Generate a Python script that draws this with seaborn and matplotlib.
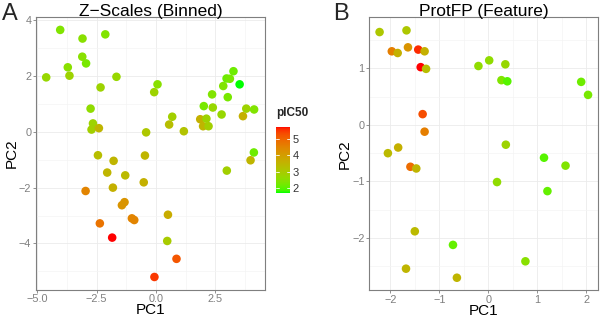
import numpy as np
import pandas as pd
import matplotlib
matplotlib.use('Agg')
import matplotlib.pyplot as plt
import seaborn as sns
from matplotlib.colors import LinearSegmentedColormap, Normalize
from matplotlib.ticker import MultipleLocator, FuncFormatter

# Panel A: Z-Scales (Binned)
zs_pc1 = [-4.03, -2.13, -3.09, -3.10, -2.94, -3.71, -3.64, -4.62, -1.66, -2.33,
          -2.75, -2.65, -2.71, -2.40, -0.41, -2.44, -1.78, -2.05, -1.29, -0.46,
          -0.51, -1.81, -2.96, -1.32, -1.43, -1.01, -0.91, -2.36, -1.84, 0.51,
          0.48, 0.87, -0.06, -0.07, 0.07, 0.69, 0.56, 1.18, 1.87, 1.99,
          2.13, 2.22, 2.02, 2.40, 2.37, 2.84, 2.77, 2.98, 3.12, 3.27,
          3.03, 3.53, 3.67, 3.81, 4.14, 4.13, 3.99, 2.99]
zs_pc2 = [3.65, 3.49, 3.34, 2.69, 2.45, 2.31, 2.01, 1.95, 1.97, 1.59,
          0.83, 0.30, 0.08, 0.13, -0.02, -0.84, -1.04, -1.46, -1.56, -0.85,
          -1.81, -2.00, -2.12, -2.52, -2.63, -3.10, -3.16, -3.28, -3.79, -2.97,
          -3.91, -4.55, -5.20, 1.42, 1.70, 0.54, 0.26, 0.02, 0.45, 0.20,
          0.47, 0.20, 0.92, 0.87, 1.34, 1.64, 0.62, 1.91, 1.90, 2.17,
          1.24, 1.70, 0.56, 0.83, 0.80, -0.74, -1.02, -1.39]
zs_pic50 = [2.4, 2.4, 2.5, 2.5, 2.3, 2.5, 2.8, 2.7, 2.7, 2.8,
            2.6, 2.8, 2.9, 3.5, 3.1, 3.3, 3.5, 3.5, 3.4, 3.5,
            3.6, 3.6, 4.5, 4.2, 4.2, 4.5, 4.5, 4.8, 5.75, 3.7,
            3.0, 5.2, 5.5, 2.8, 2.5, 2.9, 3.3, 3.2, 3.6, 3.5,
            2.8, 2.9, 2.3, 2.7, 2.4, 2.4, 2.7, 2.2, 2.3, 2.2,
            2.3, 1.7, 3.6, 2.8, 2.4, 2.2, 3.5, 2.9]

# Panel B: ProtFP (Feature)
pf_pc1 = [-2.22, -1.67, -1.97, -1.85, -1.64, -1.43, -1.30, -1.38, -1.27, -1.34,
          -1.30, -2.05, -1.84, -1.59, -1.47, -1.50, -1.68, -0.64, -0.72, -0.20,
          0.02, 0.35, 0.27, 0.39, 0.36, 0.18, 1.14, 1.21, 1.58, 1.90,
          2.04, 0.76]
pf_pc2 = [1.64, 1.67, 1.30, 1.27, 1.37, 1.33, 1.30, 1.02, 0.99, 0.19,
          -0.12, -0.50, -0.40, -0.74, -0.77, -1.88, -2.54, -2.70, -2.12, 1.04,
          1.14, 1.07, 0.79, 0.77, -0.35, -1.01, -0.58, -1.17, -0.72, 0.76,
          0.53, -2.41]
pf_pic50 = [3.1, 3.1, 4.6, 3.6, 4.2, 5.6, 3.6, 5.75, 3.3, 5.3,
            4.6, 3.4, 3.6, 4.9, 3.5, 3.4, 3.5, 3.5, 2.1, 2.6,
            2.6, 2.7, 2.4, 2.0, 2.8, 2.6, 2.0, 2.1, 2.4, 2.2,
            2.3, 2.5]

cbar_ticks = [2, 3, 4, 5]


def srgb_to_lab(rgb):
    c = np.asarray(rgb, dtype=float)
    c = np.where(c > 0.04045, ((c + 0.055) / 1.055) ** 2.4, c / 12.92)
    M = np.array([[0.4124, 0.3576, 0.1805], [0.2126, 0.7152, 0.0722], [0.0193, 0.1192, 0.9505]])
    xyz = M @ c / np.array([0.95047, 1.0, 1.08883])
    f = np.where(xyz > 0.008856, np.cbrt(xyz), 7.787 * xyz + 16 / 116)
    return np.array([116 * f[1] - 16, 500 * (f[0] - f[1]), 200 * (f[1] - f[2])])


def lab_to_srgb(lab):
    L, a, b = lab
    fy = (L + 16) / 116
    fx = fy + a / 500
    fz = fy - b / 200
    f = np.array([fx, fy, fz])
    xyz = np.where(f ** 3 > 0.008856, f ** 3, (f - 16 / 116) / 7.787) * np.array([0.95047, 1.0, 1.08883])
    Minv = np.array([[3.2406, -1.5372, -0.4986], [-0.9689, 1.8758, 0.0415], [0.0557, -0.2040, 1.0570]])
    c = np.clip(Minv @ xyz, 0, 1)
    c = np.where(c > 0.0031308, 1.055 * c ** (1 / 2.4) - 0.055, 12.92 * c)
    return np.clip(c, 0, 1)


# green -> red gradient interpolated in Lab (like ggplot's scale_colour_gradient)
lab_lo = srgb_to_lab([0, 1, 0])
lab_hi = srgb_to_lab([1, 0, 0])
stops = [lab_to_srgb(lab_lo + t * (lab_hi - lab_lo)) for t in np.linspace(0, 1, 32)]
cmap = LinearSegmentedColormap.from_list('green_red', stops)

vmin = min(min(zs_pic50), min(pf_pic50))
vmax = max(max(zs_pic50), max(pf_pic50))
norm = Normalize(vmin=vmin, vmax=vmax)

df_a = pd.DataFrame({'PC1': zs_pc1, 'PC2': zs_pc2, 'pIC50': zs_pic50})
df_b = pd.DataFrame({'PC1': pf_pc1, 'PC2': pf_pc2, 'pIC50': pf_pic50})

sns.set_theme(style='whitegrid')
plt.rcParams['font.family'] = ['Liberation Sans', 'DejaVu Sans']
plt.rcParams['axes.unicode_minus'] = True

fig = plt.figure(figsize=(6, 3.21), dpi=100)
ax_a = fig.add_axes([0.06, 0.098, 0.3817, 0.848])
ax_b = fig.add_axes([0.6155, 0.096, 0.3817, 0.850])
cax = fig.add_axes([0.46, 0.398, 0.0233, 0.2075])


def style_axes(ax, title, xmajor, ymajor):
    ax.set_facecolor('white')
    ax.xaxis.set_major_locator(MultipleLocator(xmajor))
    ax.yaxis.set_major_locator(MultipleLocator(ymajor))
    ax.xaxis.set_minor_locator(MultipleLocator(xmajor / 2))
    ax.yaxis.set_minor_locator(MultipleLocator(ymajor / 2))
    ax.grid(True, which='major', color='#ebebeb', linewidth=0.6)
    ax.grid(True, which='minor', color='#f4f4f4', linewidth=0.5)
    ax.set_axisbelow(True)
    for s in ax.spines.values():
        s.set_color('#7f7f7f')
        s.set_linewidth(0.8)
    ax.tick_params(axis='both', which='major', length=2.2, width=0.6, color='#7f7f7f',
                   labelcolor='#7f7f7f', labelsize=7.8, pad=1.2, bottom=True, left=True)
    ax.tick_params(axis='both', which='minor', length=0)
    ax.set_xlabel('PC1', fontsize=11, color='black', labelpad=-1)
    ax.set_ylabel('PC2', fontsize=11, color='black', labelpad=0)
    ax.set_title(title, fontsize=12.5, color='black', pad=1)


sns.scatterplot(data=df_a, x='PC1', y='PC2', hue='pIC50', palette=cmap, hue_norm=norm,
                s=38, linewidth=0, legend=False, ax=ax_a)
ax_a.set_xlim(-5.05, 4.6)
ax_a.set_ylim(-5.65, 4.1)
style_axes(ax_a, 'Z\u2212Scales (Binned)', 2.5, 2)
ax_a.xaxis.set_major_formatter(FuncFormatter(lambda v, p: f'{v:.1f}'.replace('-', '\u2212')))

sns.scatterplot(data=df_b, x='PC1', y='PC2', hue='pIC50', palette=cmap, hue_norm=norm,
                s=38, linewidth=0, legend=False, ax=ax_b)
ax_b.set_xlim(-2.43, 2.25)
ax_b.set_ylim(-2.92, 1.9)
style_axes(ax_b, 'ProtFP (Feature)', 1, 1)

# colour bar
sm = matplotlib.cm.ScalarMappable(norm=norm, cmap=cmap)
cb = fig.colorbar(sm, cax=cax, ticks=cbar_ticks)
cb.outline.set_visible(False)
cax.tick_params(length=0, labelsize=8, colors='#333333', pad=2)
for t in cbar_ticks:
    cax.plot([0, 0.2], [t, t], color='white', lw=0.6, transform=cax.get_yaxis_transform())
    cax.plot([0.8, 1.0], [t, t], color='white', lw=0.6, transform=cax.get_yaxis_transform())
fig.text(0.46, 0.63, 'pIC50', fontsize=8.5, fontweight='bold', ha='left', va='bottom')

# panel letters
fig.text(0.003, 0.99, 'A', fontsize=17, ha='left', va='top')
fig.text(0.555, 0.99, 'B', fontsize=17, ha='left', va='top')

fig.savefig('out.png', dpi=100)
